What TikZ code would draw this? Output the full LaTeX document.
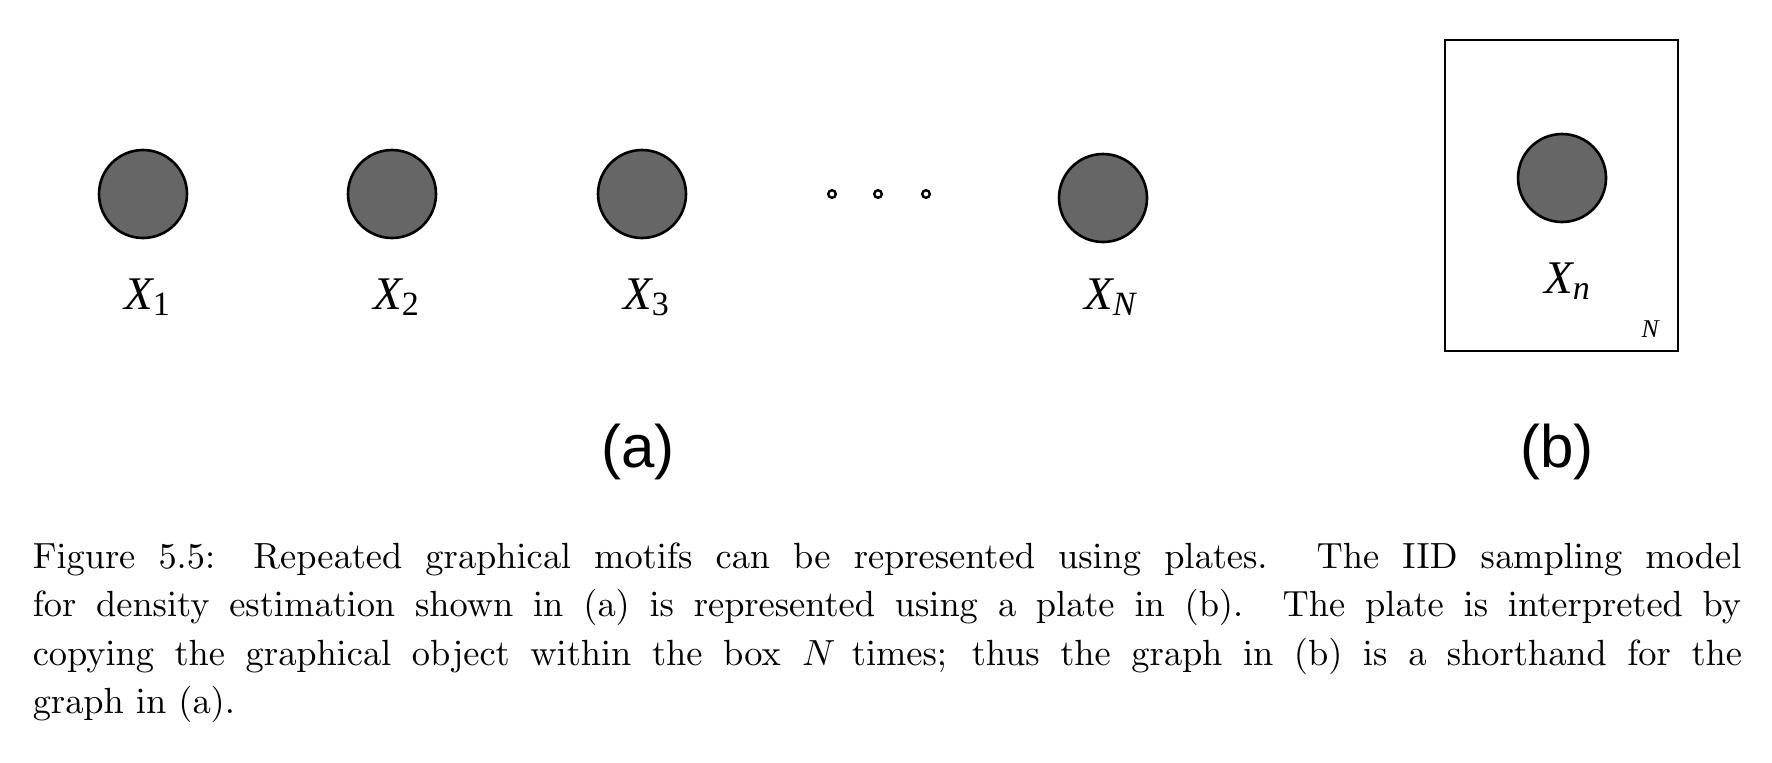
\documentclass[tikz,border=0pt]{standalone}
\usepackage{fontspec}
\newfontfamily\timesf{Liberation Serif}
\newfontfamily\helvf{Liberation Sans}
\font\capfnt=cmr10 at 9.1pt
\font\capmi=cmmi10 at 9.1pt
\begin{document}
\begin{tikzpicture}[x=0.25pt,y=-0.25pt,
  obs/.style={circle,draw=black,line width=0.65pt,fill=black!60,minimum size=22pt,inner sep=0pt},
  dotnode/.style={circle,draw=black,line width=0.6pt,fill=white,minimum size=1.9pt,inner sep=0pt},
  lbl/.style={anchor=base,inner sep=0pt,font=\timesf\fontsize{11.7}{14}\selectfont},
  panel/.style={anchor=base,inner sep=0pt,font=\helvf\fontsize{15}{18}\selectfont},
  capline/.style={anchor=base west,inner sep=0pt,font=\capfnt},
  plate/.style={draw=black,line width=0.6pt}]
\useasboundingbox (0,0) rectangle (1772,762);
% (a)
\node[obs] (x1) at (143,194) {};
\node[obs] (x2) at (392,194) {};
\node[obs] (x3) at (642,194) {};
\node[dotnode] (d1) at (832,194) {};
\node[dotnode] (d2) at (878,194) {};
\node[dotnode] (d3) at (926,194) {};
\node[obs] (xN) at (1103,198) {};
\node[lbl] (l1) at (147,309) {\itshape X\raisebox{-1.7pt}{\upshape\fontsize{8.5}{10}\selectfont 1}};
\node[lbl] (l2) at (396,309) {\itshape X\raisebox{-1.7pt}{\upshape\fontsize{8.5}{10}\selectfont 2}};
\node[lbl] (l3) at (646,309) {\itshape X\raisebox{-1.7pt}{\upshape\fontsize{8.5}{10}\selectfont 3}};
\node[lbl] (lN) at (1110,309) {\itshape X\raisebox{-1.7pt}{\fontsize{8.5}{10}\selectfont N}};
\node[panel] (pa) at (638,467) {(a)};
% (b)
\draw[plate] (1445,40) rectangle (1678,351);
\node[obs] (xn) at (1562,178) {};
\node[lbl] (ln) at (1567,293) {\itshape X\raisebox{-1.7pt}{\fontsize{8.5}{10}\selectfont n}};
\node[lbl,font=\timesf\itshape\fontsize{6.4}{8}\selectfont] (lplate) at (1650,337) {N};
\node[panel] (pb) at (1557,467) {(b)};
% caption
\node[capline] (c1) at (32,568) {\makebox[427.5pt][s]{Figure 5.5: Repeated graphical motifs can be represented using plates. The IID sampling model}};
\node[capline] (c2) at (32,616.5) {\makebox[427.5pt][s]{for density estimation shown in (a) is represented using a plate in (b). The plate is interpreted by}};
\node[capline] (c3) at (32,665) {\makebox[427.5pt][s]{copying the graphical object within the box {\capmi N} times; thus the graph in (b) is a shorthand for the}};
\node[capline] (c4) at (32,713.5) {graph in (a).};
\end{tikzpicture}
\end{document}
